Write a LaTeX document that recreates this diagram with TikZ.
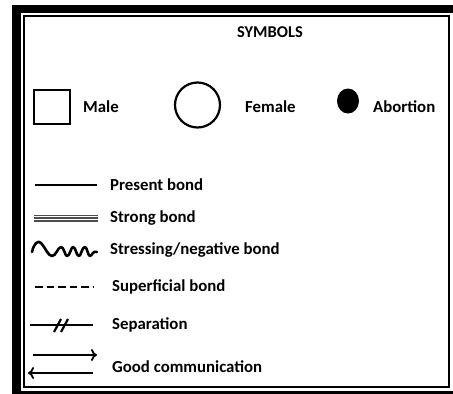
\documentclass[tikz,border=0pt]{standalone}
\usepackage{fontspec}
\setmainfont{Carlito}
\usetikzlibrary{arrows.meta,shapes.geometric}
\begin{document}
\begin{tikzpicture}[x=1pt,y=-1pt,
  lbl/.style={anchor=west,inner sep=0pt,font=\fontsize{16.8}{20}\selectfont\bfseries},
  bondline/.style={line width=1.8pt},
  sym/.style={draw,line width=2.2pt,inner sep=0pt}]
\useasboundingbox (0,0) rectangle (453,394);
% frame
\fill[black] (12,5) rectangle (453,394);
\fill[white] (21,13) rectangle (453,391);
\draw[line width=2pt] (24,16) rectangle (449,387);
% title
\node[inner sep=0pt,font=\fontsize{16.5}{20}\selectfont\bfseries] (title) at (270,32) {SYMBOLS};
% symbols
\node[sym,minimum width=36pt,minimum height=34pt] (male) at (52,107) {};
\node[lbl] (malet) at (83,107) {Male};
\node[sym,circle,minimum size=45pt] (female) at (197.5,105) {};
\node[lbl] (femalet) at (245,107) {Female};
\node[fill=black,ellipse,minimum width=22pt,minimum height=25pt,inner sep=0pt] (abort) at (348,101) {};
\node[lbl] (abortt) at (373,107) {Abortion};
% present bond
\coordinate (p1) at (35,185); \coordinate (p2) at (97,185);
\draw[bondline] (p1) -- (p2);
\node[lbl] (pt) at (110,185) {Present bond};
% strong bond
\coordinate (s1) at (34,218); \coordinate (s2) at (98,218);
\draw[line width=1.4pt,black!70] ([yshift=-2.8pt]s1) -- ([yshift=-2.8pt]s2);
\draw[line width=1.4pt,black!70] (s1) -- (s2);
\draw[line width=1.4pt,black!70] ([yshift=2.8pt]s1) -- ([yshift=2.8pt]s2);
\node[lbl] (st) at (110,218) {Strong bond};
% stressing
\coordinate (w1) at (32,252); \coordinate (w2) at (97,252);
\draw[line width=2.6pt,line cap=round,line join=round] (w1)
  .. controls (34,243) and (38,240) .. (41,243)
  .. controls (45,247) and (48,256) .. (52,256)
  .. controls (56,256) and (58,247) .. (61,247)
  .. controls (64,247) and (65,256) .. (67,256)
  .. controls (70,256) and (71,247) .. (73,247)
  .. controls (76,247) and (76,256) .. (79,256)
  .. controls (81,256) and (82,247) .. (85,247)
  .. controls (87,247) and (88,256) .. (90,256)
  .. controls (92,256) and (93,250) .. (w2);
\node[lbl] (wt) at (110,250) {Stressing/negative bond};
% superficial
\coordinate (d1) at (35,287); \coordinate (d2) at (93,287);
\draw[line width=2.4pt,dash pattern=on 7.5pt off 4pt] (d1) -- (d2);
\node[lbl] (dt) at (112,287) {Superficial bond};
% separation
\coordinate (x1) at (30,325); \coordinate (x2) at (93,325);
\draw[bondline] (x1) -- (x2);
\coordinate (sl1a) at (54,332); \coordinate (sl1b) at (61,319);
\coordinate (sl2a) at (61,332); \coordinate (sl2b) at (68,319);
\draw[line width=2.2pt] (sl1a) -- (sl1b);
\draw[line width=2.2pt] (sl2a) -- (sl2b);
\node[lbl] (xt) at (112,325) {Separation};
% good communication
\coordinate (a1) at (33,355); \coordinate (a2) at (97,355);
\coordinate (b1) at (93,373); \coordinate (b2) at (28,373);
\draw[bondline,-{To[length=6pt,width=12pt,line width=1.8pt]}] (a1) -- (a2);
\draw[bondline,-{To[length=6pt,width=12pt,line width=1.8pt]}] (b1) -- (b2);
\node[lbl] (gt) at (112,367) {Good communication};
\end{tikzpicture}
\end{document}
